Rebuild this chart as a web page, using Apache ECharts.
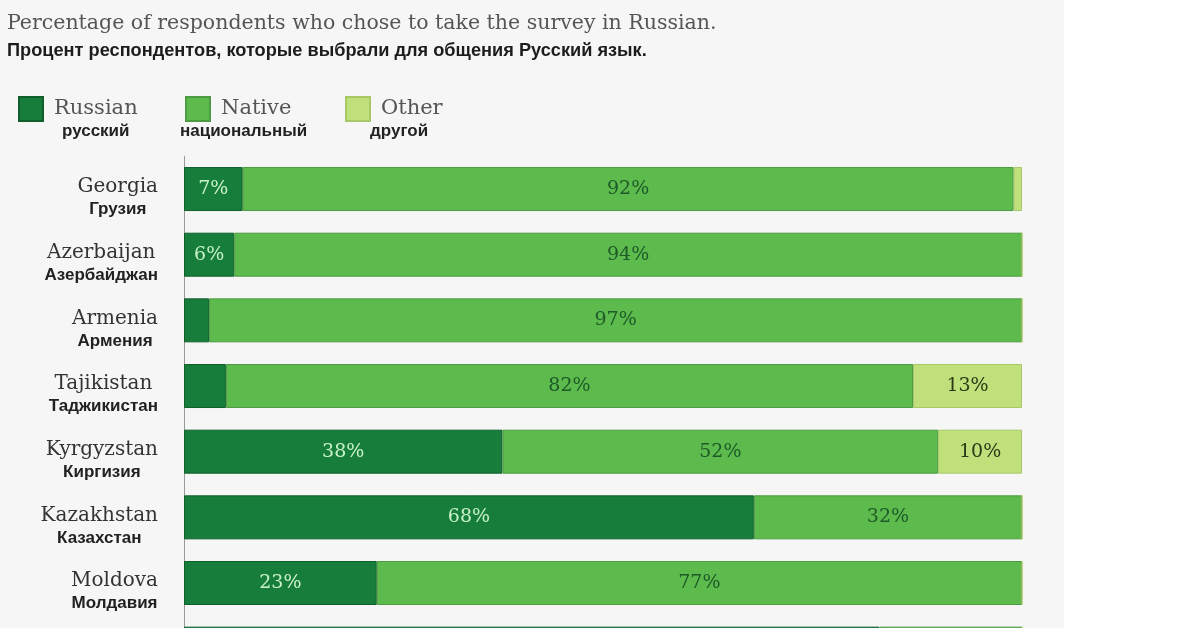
<!DOCTYPE html>
<html>
<head>
<meta charset="utf-8">
<script src="https://cdn.jsdelivr.net/npm/echarts@6/dist/echarts.min.js"></script>
<style>
html,body{margin:0;padding:0;background:#fff;overflow:hidden;width:1200px;height:628px;}
#c{width:1200px;height:700px;}
</style>
</head>
<body>
<div id="c"></div>
<script>
const countriesEn = ['Georgia','Azerbaijan','Armenia','Tajikistan','Kyrgyzstan','Kazakhstan','Moldova','Ukraine'];
const countriesRu = ['Грузия','Азербайджан','Армения','Таджикистан','Киргизия','Казахстан','Молдавия','Украина'];
const russianVals = [7, 6, 3, 5, 38, 68, 23, 83];
const nativeVals  = [92, 94, 97, 82, 52, 32, 77, 17];
const otherVals   = [1, 0, 0, 13, 10, 0, 0, 0];
const seriesNamesEn = ['Russian','Native','Other'];
const seriesNamesRu = ['русский','национальный','другой'];

const colors = ['#177d3b', '#5dbb4e', '#bfe07a'];
const borders = ['#0f5e2c', '#4c9a42', '#a8c868'];
const labelColors = ['#c9f2c8', '#1d5a28', '#2c3a18'];
const serif = '"DejaVu Serif"';

const chart = echarts.init(document.getElementById('c'), null, {renderer:'canvas'});

function mkSeries(i, vals){
  return {
    name: seriesNamesEn[i],
    type: 'bar',
    stack: 'total',
    barWidth: 44,
    data: vals,
    itemStyle: {color: colors[i], borderColor: borders[i], borderWidth: 1},
    label: {
      show: true,
      position: 'inside',
      fontFamily: serif,
      fontSize: 19,
      color: labelColors[i],
      formatter: p => p.value >= 6 ? p.value + '%' : ''
    },
    emphasis: {disabled: true}
  };
}

const legendLefts = [18, 185, 345];
const legends = seriesNamesEn.map((n, i) => ({
  data: [n],
  left: legendLefts[i],
  top: 96,
  icon: 'rect',
  itemWidth: 24,
  itemHeight: 24,
  padding: 0,
  selectedMode: false,
  textStyle: {fontFamily: serif, fontSize: 21, color: '#555', padding: [0,0,0,6]}
}));

const ruLegendX = [62, 180, 370];

chart.setOption({
  backgroundColor: '#ffffff',
  animation: false,
  color: colors,
  title: {
    text: 'Percentage of respondents who chose to take the survey in Russian.',
    subtext: 'Процент респондентов, которые выбрали для общения Русский язык.',
    left: 7, top: 13, padding: 0, itemGap: 8,
    textStyle: {fontFamily: serif, fontSize: 20.5, fontWeight: 'normal', color: '#555'},
    subtextStyle: {fontFamily: 'Liberation Sans', fontSize: 18.2, fontWeight: 'bold', color: '#1c1c1c'}
  },
  legend: legends,
  graphic: [
    {type: 'rect', z: -10, silent: true, shape: {x: 0, y: 0, width: 1064, height: 700}, style: {fill: '#f6f6f6'}}
  ].concat(seriesNamesRu.map((t, i) => ({
    type: 'text', left: ruLegendX[i], top: 123,
    style: {text: t, font: 'bold 17px "Liberation Sans"', fill: '#222'}
  }))),
  grid: {left: 184, right: 178, top: 156.2, height: 525.3, containLabel: false},
  xAxis: {type: 'value', min: 0, max: 100, show: false},
  yAxis: {
    type: 'category',
    inverse: true,
    data: countriesEn,
    axisLine: {show: true, lineStyle: {color: '#999', width: 1}},
    axisTick: {show: false},
    splitLine: {show: false},
    axisLabel: {
      margin: 26,
      padding: [17, 0, 0, 0],
      formatter: (v, idx) => '{en|' + v + '}\n{ru|' + countriesRu[idx] + '}',
      rich: {
        en: {fontFamily: serif, fontSize: 20, color: '#333', lineHeight: 24, align: 'center'},
        ru: {fontFamily: 'Liberation Sans', fontSize: 17, fontWeight: 'bold', color: '#222', lineHeight: 21, align: 'center'}
      }
    }
  },
  series: [mkSeries(0, russianVals), mkSeries(1, nativeVals), mkSeries(2, otherVals)]
});
</script>
</body>
</html>
